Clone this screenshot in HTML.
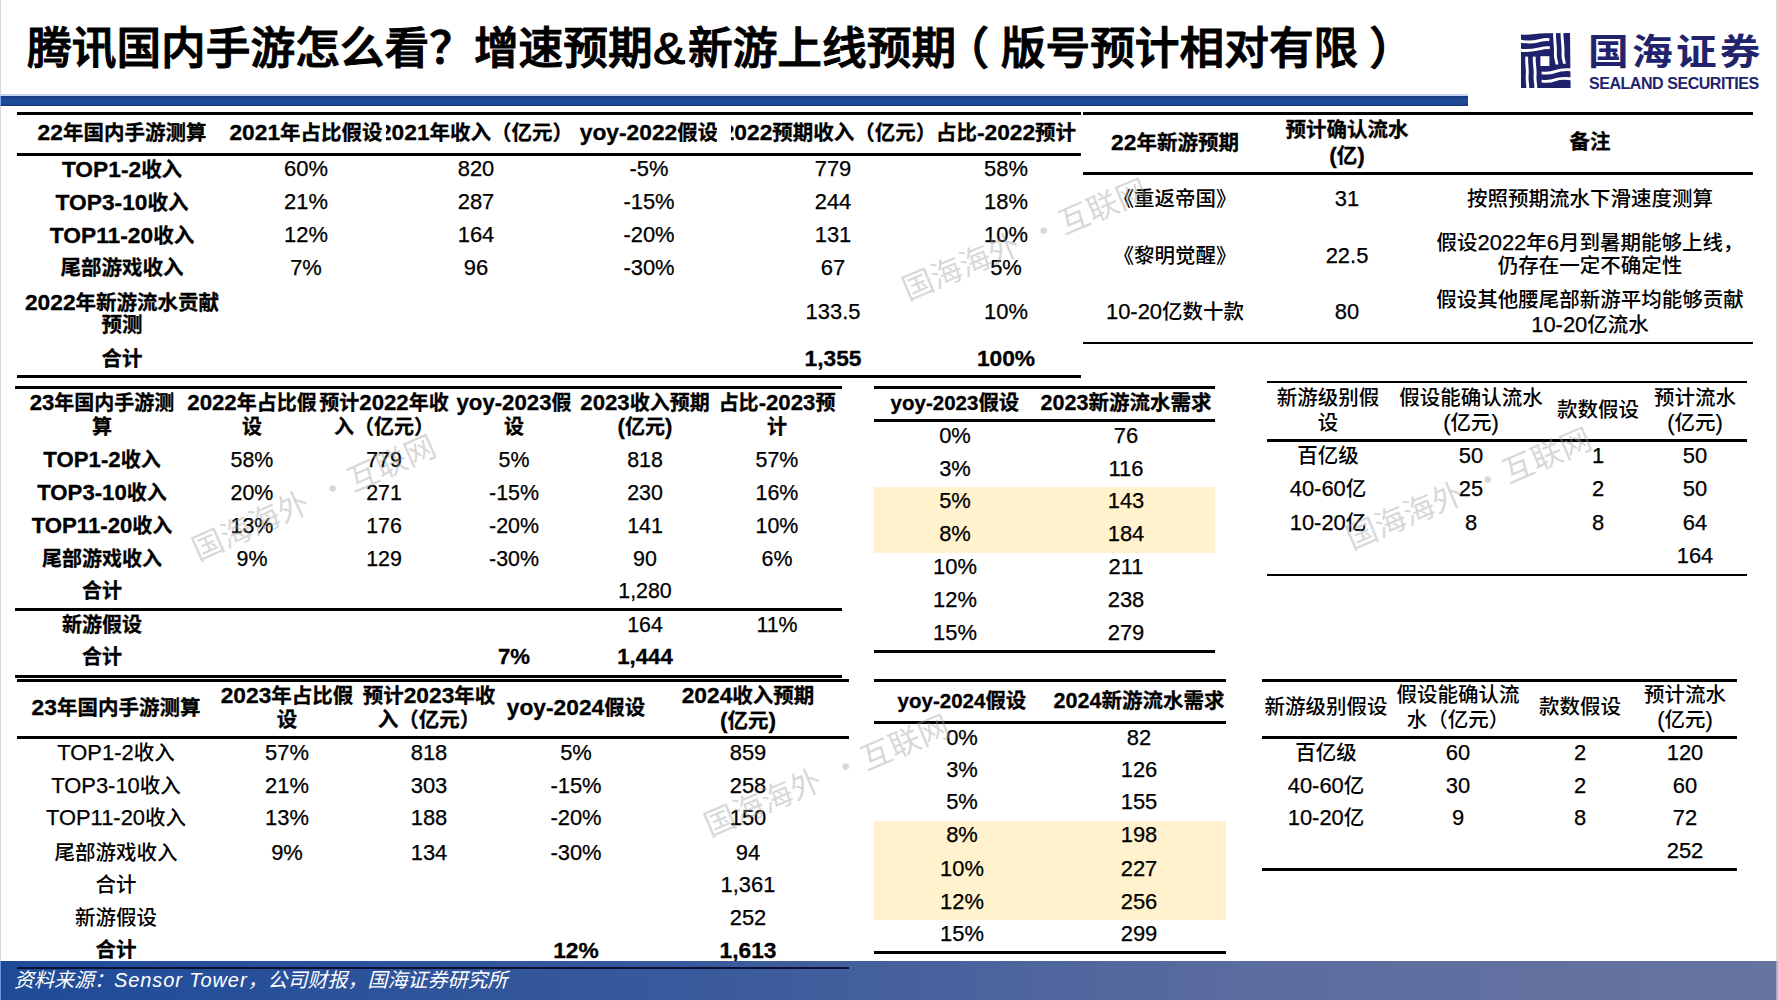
<!DOCTYPE html>
<html lang="zh-CN"><head><meta charset="utf-8"><title>腾讯国内手游怎么看</title>
<style>
html,body{margin:0;padding:0;background:#fff}
#s{position:relative;width:1778px;height:1000px;overflow:hidden;background:#fff;font-family:"Liberation Sans", "Noto Sans CJK SC", sans-serif;color:#000}
.ln{position:absolute}
.t{position:absolute;text-align:center;white-space:nowrap;line-height:30px;height:30px;font-weight:500}
.b{font-weight:700;-webkit-text-stroke:0.3px #000}
.L{font-size:var(--ls,1.07em);-webkit-text-stroke:0.25px #000}
.b .L{font-size:var(--ls,1.11em);-webkit-text-stroke:0.3px #000}
.clip{position:absolute;overflow:hidden}
.ws{word-spacing:-5px}
.wm{position:absolute;white-space:nowrap;color:rgba(160,160,160,0.42);transform-origin:15.5px 17px;line-height:1;word-spacing:6px;font-family:"Noto Sans CJK SC",sans-serif}
#title{position:absolute;left:27px;top:20px;font-size:44.7px;font-weight:500;-webkit-text-stroke:1.1px #000;line-height:58px;white-space:nowrap;letter-spacing:0}
.amp{margin:0 5.5px 0 0;display:inline-block;transform:scaleX(1.08);transform-origin:0 50%}
.fpl{position:relative;left:-11.5px}
.fpr{position:relative;left:11px}
#bar{position:absolute;left:0;top:96px;width:1468px;height:10px;background:linear-gradient(180deg,#15357a 0%,#1c4690 25%,#1f4e9b 60%,#1a438c 85%,#132f6a 100%)}
#barf{position:absolute;left:0;top:94px;width:1468px;height:2px;background:#c6d5f5}
#edgeL{position:absolute;left:0;top:0;width:1px;height:961px;background:#d6d6d6}
#edgeR{position:absolute;left:1776px;top:0;width:2px;height:1000px;background:#d9d9d9}
#foot{position:absolute;left:0;top:961px;width:1776px;height:39px;background:linear-gradient(90deg,#1e4b98 0%,#3a5a9c 40%,#5b6c9f 70%,#6774a0 100%)}
.st{letter-spacing:0.9px}
#foottxt{position:absolute;left:14px;top:965px;font-size:20px;font-style:italic;color:#fff;line-height:30px;white-space:nowrap}
#logo{position:absolute;left:1521px;top:33px;width:50px;height:56px}
#logo svg{display:block}
#logocn{position:absolute;left:1588px;top:31px;font-size:36px;font-weight:700;color:#22236d;letter-spacing:2.9px;transform:scaleX(1.13);transform-origin:0 0;line-height:44px;white-space:nowrap}
#logoen{position:absolute;left:1589px;top:73.5px;font-size:16px;font-weight:700;color:#22236d;line-height:20px;white-space:nowrap;letter-spacing:-0.45px}
</style></head><body><div id="s">
<div id="title">腾讯国内手游怎么看？增速预期<span class="amp">&amp;</span>新游上线预期<span class="fpl">（</span>版号预计相对有限<span class="fpr">）</span></div>
<div id="barf"></div><div id="bar"></div>
<div id="logo"><svg width="50" height="56" viewBox="0 0 50 56">
<path d="M0,1.5 C8,2.2 16,0.5 24,0.3 L49,0 L49.6,55 L0,55 Z" fill="#20216c"/>
<g fill="none" stroke="#fff" stroke-width="2.9">
<path d="M-1,8 C5,9.2 11,9.4 17,8 S24,6 28.4,6.8"/>
<path d="M-1,17.2 C5,17.8 11,17.6 17,16.2 S24,14.2 28.8,14.8"/>
<path d="M33.6,-1 C33.2,7 34.8,13 34.4,20 S35.8,27 35.9,31.5"/>
<path d="M41,-1 C40.8,7 42.4,13 42,20 S43.4,27 43.3,30.8"/>
<path d="M20.6,39.9 C25,40.4 30,40.2 34,38.6 S44,36.2 51,36.8"/>
<path d="M20.6,48.1 C25,48.6 30,48.4 34,46.8 S44,45 51,45.8"/>
<path d="M5.8,23.6 C5.2,30 6.8,36 6.2,42 S7,50 6.8,56.5"/>
<path d="M13.3,23.6 C12.8,30 14.6,36 14.1,42 S15,50 14.8,56.5"/>
</g>
<rect x="19.4" y="23.2" width="9" height="9.8" fill="#fff"/>
</svg></div>
<div id="logocn">国海证券</div>
<div id="logoen">SEALAND SECURITIES</div>
<div class="ln" style="left:17px;top:112px;width:1064px;height:3px;background:#000"></div>
<div class="ln" style="left:17px;top:153px;width:1064px;height:3px;background:#000"></div>
<div class="ln" style="left:17px;top:375px;width:1064px;height:3px;background:#000"></div>
<div class="t b" style="left:-78.0px;top:117.0px;width:400px;font-size:20.5px;"><span class="L">22</span>年国内手游测算</div>
<div class="clip" style="left:224px;top:117.0px;width:162px;height:30px"><div class="t b" style="left:-118.0px;top:0;width:400px;font-size:20.5px;"><span class="L">2021</span>年占比假设</div></div>
<div class="clip" style="left:386px;top:117.0px;width:180px;height:30px"><div class="t b" style="left:-110.0px;top:0;width:400px;font-size:20.5px;"><span class="L">2021</span>年收入（亿元）</div></div>
<div class="clip" style="left:566px;top:117.0px;width:151px;height:30px"><div class="t b" style="left:-117.0px;top:0;width:400px;font-size:20.5px;"><span class="L">yoy-2022</span>假设</div></div>
<div class="clip" style="left:731px;top:117.0px;width:200px;height:30px"><div class="t b" style="left:-102.0px;top:0;width:400px;font-size:20.5px;"><span class="L">2022</span>预期收入（亿元）</div></div>
<div class="clip" style="left:931px;top:117.0px;width:150px;height:30px"><div class="t b" style="left:-125.0px;top:0;width:400px;font-size:20.5px;">占比<span class="L">-2022</span>预计</div></div>
<div class="t b" style="left:-78.0px;top:154.0px;width:400px;font-size:20.5px;"><span class="L">TOP1-2</span>收入</div>
<div class="t" style="left:106.0px;top:154.0px;width:400px;font-size:20.5px;"><span class="L">60%</span></div>
<div class="t" style="left:276.0px;top:154.0px;width:400px;font-size:20.5px;"><span class="L">820</span></div>
<div class="t" style="left:449.0px;top:154.0px;width:400px;font-size:20.5px;"><span class="L">-5%</span></div>
<div class="t" style="left:633.0px;top:154.0px;width:400px;font-size:20.5px;"><span class="L">779</span></div>
<div class="t" style="left:806.0px;top:154.0px;width:400px;font-size:20.5px;"><span class="L">58%</span></div>
<div class="t b" style="left:-78.0px;top:186.5px;width:400px;font-size:20.5px;"><span class="L">TOP3-10</span>收入</div>
<div class="t" style="left:106.0px;top:186.5px;width:400px;font-size:20.5px;"><span class="L">21%</span></div>
<div class="t" style="left:276.0px;top:186.5px;width:400px;font-size:20.5px;"><span class="L">287</span></div>
<div class="t" style="left:449.0px;top:186.5px;width:400px;font-size:20.5px;"><span class="L">-15%</span></div>
<div class="t" style="left:633.0px;top:186.5px;width:400px;font-size:20.5px;"><span class="L">244</span></div>
<div class="t" style="left:806.0px;top:186.5px;width:400px;font-size:20.5px;"><span class="L">18%</span></div>
<div class="t b" style="left:-78.0px;top:219.5px;width:400px;font-size:20.5px;"><span class="L">TOP11-20</span>收入</div>
<div class="t" style="left:106.0px;top:219.5px;width:400px;font-size:20.5px;"><span class="L">12%</span></div>
<div class="t" style="left:276.0px;top:219.5px;width:400px;font-size:20.5px;"><span class="L">164</span></div>
<div class="t" style="left:449.0px;top:219.5px;width:400px;font-size:20.5px;"><span class="L">-20%</span></div>
<div class="t" style="left:633.0px;top:219.5px;width:400px;font-size:20.5px;"><span class="L">131</span></div>
<div class="t" style="left:806.0px;top:219.5px;width:400px;font-size:20.5px;"><span class="L">10%</span></div>
<div class="t b" style="left:-78.0px;top:252.5px;width:400px;font-size:20.5px;">尾部游戏收入</div>
<div class="t" style="left:106.0px;top:252.5px;width:400px;font-size:20.5px;"><span class="L">7%</span></div>
<div class="t" style="left:276.0px;top:252.5px;width:400px;font-size:20.5px;"><span class="L">96</span></div>
<div class="t" style="left:449.0px;top:252.5px;width:400px;font-size:20.5px;"><span class="L">-30%</span></div>
<div class="t" style="left:633.0px;top:252.5px;width:400px;font-size:20.5px;"><span class="L">67</span></div>
<div class="t" style="left:806.0px;top:252.5px;width:400px;font-size:20.5px;"><span class="L">5%</span></div>
<div class="t b" style="left:-78.0px;top:286.5px;width:400px;font-size:20.5px;"><span class="L">2022</span>年新游流水贡献</div>
<div class="t b" style="left:-78.0px;top:310.0px;width:400px;font-size:20.5px;">预测</div>
<div class="t" style="left:633.0px;top:297.0px;width:400px;font-size:20.5px;"><span class="L">133.5</span></div>
<div class="t" style="left:806.0px;top:297.0px;width:400px;font-size:20.5px;"><span class="L">10%</span></div>
<div class="t b" style="left:-78.0px;top:343.5px;width:400px;font-size:20.5px;">合计</div>
<div class="t b" style="left:633.0px;top:343.0px;width:400px;font-size:20.5px;"><span class="L">1,355</span></div>
<div class="t b" style="left:806.0px;top:343.0px;width:400px;font-size:20.5px;"><span class="L">100%</span></div>
<div class="ln" style="left:1083px;top:112px;width:670px;height:3px;background:#000"></div>
<div class="ln" style="left:1083px;top:172px;width:670px;height:3px;background:#000"></div>
<div class="ln" style="left:1083px;top:342px;width:670px;height:2px;background:#000"></div>
<div class="t b" style="left:975.0px;top:127.0px;width:400px;font-size:20.5px;"><span class="L">22</span>年新游预期</div>
<div class="t b" style="left:1147.0px;top:114.5px;width:400px;font-size:20.5px;">预计确认流水</div>
<div class="t b" style="left:1147.0px;top:140.0px;width:400px;font-size:20.5px;"><span class="L">(</span>亿<span class="L">)</span></div>
<div class="t b" style="left:1390.0px;top:127.0px;width:400px;font-size:20.5px;">备注</div>
<div class="t" style="left:975.0px;top:184.0px;width:400px;font-size:20.5px;">《重返帝国》</div>
<div class="t" style="left:1147.0px;top:184.0px;width:400px;font-size:20.5px;"><span class="L">31</span></div>
<div class="t" style="left:1390.0px;top:184.0px;width:400px;font-size:20.5px;">按照预期流水下滑速度测算</div>
<div class="t" style="left:975.0px;top:240.5px;width:400px;font-size:20.5px;">《黎明觉醒》</div>
<div class="t" style="left:1147.0px;top:240.5px;width:400px;font-size:20.5px;"><span class="L">22.5</span></div>
<div class="t" style="left:1390.0px;top:228.0px;width:400px;font-size:20.5px;">假设<span class="L">2022</span>年<span class="L">6</span>月到暑期能够上线，</div>
<div class="t" style="left:1390.0px;top:251.0px;width:400px;font-size:20.5px;">仍存在一定不确定性</div>
<div class="t" style="left:975.0px;top:297.0px;width:400px;font-size:20.5px;"><span class="L">10-20</span>亿数十款</div>
<div class="t" style="left:1147.0px;top:297.0px;width:400px;font-size:20.5px;"><span class="L">80</span></div>
<div class="t" style="left:1390.0px;top:284.5px;width:400px;font-size:20.5px;">假设其他腰尾部新游平均能够贡献</div>
<div class="t" style="left:1390.0px;top:310.0px;width:400px;font-size:20.5px;"><span class="L">10-20</span>亿流水</div>
<div class="ln" style="left:15px;top:386px;width:827px;height:3px;background:#000"></div>
<div class="ln" style="left:15px;top:608px;width:827px;height:3px;background:#000"></div>
<div class="ln" style="left:15px;top:675px;width:827px;height:3px;background:#000"></div>
<div class="t b" style="left:-98.0px;top:387.5px;width:400px;font-size:20px;"><span class="L">23</span>年国内手游测</div>
<div class="t b" style="left:-98.0px;top:412.0px;width:400px;font-size:20px;">算</div>
<div class="t b" style="left:52.0px;top:387.5px;width:400px;font-size:20px;"><span class="L">2022</span>年占比假</div>
<div class="t b" style="left:52.0px;top:412.0px;width:400px;font-size:20px;">设</div>
<div class="t b" style="left:184.0px;top:387.5px;width:400px;font-size:20px;">预计<span class="L">2022</span>年收</div>
<div class="t b" style="left:184.0px;top:412.0px;width:400px;font-size:20px;">入（亿元）</div>
<div class="t b" style="left:314.0px;top:387.5px;width:400px;font-size:20px;"><span class="L">yoy-2023</span>假</div>
<div class="t b" style="left:314.0px;top:412.0px;width:400px;font-size:20px;">设</div>
<div class="t b" style="left:445.0px;top:387.5px;width:400px;font-size:20px;"><span class="L">2023</span>收入预期</div>
<div class="t b" style="left:445.0px;top:412.0px;width:400px;font-size:20px;"><span class="L">(</span>亿元<span class="L">)</span></div>
<div class="t b" style="left:577.0px;top:387.5px;width:400px;font-size:20px;">占比<span class="L">-2023</span>预</div>
<div class="t b" style="left:577.0px;top:412.0px;width:400px;font-size:20px;">计</div>
<div class="t b" style="left:-98.0px;top:445.0px;width:400px;font-size:20px;"><span class="L">TOP1-2</span>收入</div>
<div class="t" style="left:52.0px;top:445.0px;width:400px;font-size:20px;"><span class="L">58%</span></div>
<div class="t" style="left:184.0px;top:445.0px;width:400px;font-size:20px;"><span class="L">779</span></div>
<div class="t" style="left:314.0px;top:445.0px;width:400px;font-size:20px;"><span class="L">5%</span></div>
<div class="t" style="left:445.0px;top:445.0px;width:400px;font-size:20px;"><span class="L">818</span></div>
<div class="t" style="left:577.0px;top:445.0px;width:400px;font-size:20px;"><span class="L">57%</span></div>
<div class="t b" style="left:-98.0px;top:478.0px;width:400px;font-size:20px;"><span class="L">TOP3-10</span>收入</div>
<div class="t" style="left:52.0px;top:478.0px;width:400px;font-size:20px;"><span class="L">20%</span></div>
<div class="t" style="left:184.0px;top:478.0px;width:400px;font-size:20px;"><span class="L">271</span></div>
<div class="t" style="left:314.0px;top:478.0px;width:400px;font-size:20px;"><span class="L">-15%</span></div>
<div class="t" style="left:445.0px;top:478.0px;width:400px;font-size:20px;"><span class="L">230</span></div>
<div class="t" style="left:577.0px;top:478.0px;width:400px;font-size:20px;"><span class="L">16%</span></div>
<div class="t b" style="left:-98.0px;top:511.0px;width:400px;font-size:20px;"><span class="L">TOP11-20</span>收入</div>
<div class="t" style="left:52.0px;top:511.0px;width:400px;font-size:20px;"><span class="L">13%</span></div>
<div class="t" style="left:184.0px;top:511.0px;width:400px;font-size:20px;"><span class="L">176</span></div>
<div class="t" style="left:314.0px;top:511.0px;width:400px;font-size:20px;"><span class="L">-20%</span></div>
<div class="t" style="left:445.0px;top:511.0px;width:400px;font-size:20px;"><span class="L">141</span></div>
<div class="t" style="left:577.0px;top:511.0px;width:400px;font-size:20px;"><span class="L">10%</span></div>
<div class="t b" style="left:-98.0px;top:543.5px;width:400px;font-size:20px;">尾部游戏收入</div>
<div class="t" style="left:52.0px;top:543.5px;width:400px;font-size:20px;"><span class="L">9%</span></div>
<div class="t" style="left:184.0px;top:543.5px;width:400px;font-size:20px;"><span class="L">129</span></div>
<div class="t" style="left:314.0px;top:543.5px;width:400px;font-size:20px;"><span class="L">-30%</span></div>
<div class="t" style="left:445.0px;top:543.5px;width:400px;font-size:20px;"><span class="L">90</span></div>
<div class="t" style="left:577.0px;top:543.5px;width:400px;font-size:20px;"><span class="L">6%</span></div>
<div class="t b" style="left:-98.0px;top:575.5px;width:400px;font-size:20px;">合计</div>
<div class="t" style="left:445.0px;top:575.5px;width:400px;font-size:20px;"><span class="L">1,280</span></div>
<div class="t b" style="left:-98.0px;top:609.5px;width:400px;font-size:20px;">新游假设</div>
<div class="t" style="left:445.0px;top:609.5px;width:400px;font-size:20px;"><span class="L">164</span></div>
<div class="t" style="left:577.0px;top:609.5px;width:400px;font-size:20px;"><span class="L">11%</span></div>
<div class="t b" style="left:-98.0px;top:642.0px;width:400px;font-size:20px;">合计</div>
<div class="t b" style="left:314.0px;top:642.0px;width:400px;font-size:20px;"><span class="L">7%</span></div>
<div class="t b" style="left:445.0px;top:642.0px;width:400px;font-size:20px;"><span class="L">1,444</span></div>
<div class="ln" style="left:874px;top:487px;width:341px;height:66px;background:#FFF2CC"></div>
<div class="ln" style="left:874px;top:386px;width:341px;height:3px;background:#000"></div>
<div class="ln" style="left:874px;top:419px;width:341px;height:3px;background:#000"></div>
<div class="ln" style="left:874px;top:650px;width:341px;height:3px;background:#000"></div>
<div class="t b" style="left:755.0px;top:387.5px;width:400px;font-size:20.5px;--ls:1.0em;"><span class="L">yoy-2023</span>假设</div>
<div class="t b" style="left:926.0px;top:387.5px;width:400px;font-size:20.5px;--ls:1.05em;"><span class="L">2023</span>新游流水需求</div>
<div class="t" style="left:755.0px;top:421.0px;width:400px;font-size:20.5px;"><span class="L">0%</span></div>
<div class="t" style="left:926.0px;top:421.0px;width:400px;font-size:20.5px;"><span class="L">76</span></div>
<div class="t" style="left:755.0px;top:453.5px;width:400px;font-size:20.5px;"><span class="L">3%</span></div>
<div class="t" style="left:926.0px;top:453.5px;width:400px;font-size:20.5px;"><span class="L">116</span></div>
<div class="t" style="left:755.0px;top:486.0px;width:400px;font-size:20.5px;"><span class="L">5%</span></div>
<div class="t" style="left:926.0px;top:486.0px;width:400px;font-size:20.5px;"><span class="L">143</span></div>
<div class="t" style="left:755.0px;top:519.0px;width:400px;font-size:20.5px;"><span class="L">8%</span></div>
<div class="t" style="left:926.0px;top:519.0px;width:400px;font-size:20.5px;"><span class="L">184</span></div>
<div class="t" style="left:755.0px;top:552.0px;width:400px;font-size:20.5px;"><span class="L">10%</span></div>
<div class="t" style="left:926.0px;top:552.0px;width:400px;font-size:20.5px;"><span class="L">211</span></div>
<div class="t" style="left:755.0px;top:584.5px;width:400px;font-size:20.5px;"><span class="L">12%</span></div>
<div class="t" style="left:926.0px;top:584.5px;width:400px;font-size:20.5px;"><span class="L">238</span></div>
<div class="t" style="left:755.0px;top:618.0px;width:400px;font-size:20.5px;"><span class="L">15%</span></div>
<div class="t" style="left:926.0px;top:618.0px;width:400px;font-size:20.5px;"><span class="L">279</span></div>
<div class="ln" style="left:1267px;top:381px;width:480px;height:2px;background:#000"></div>
<div class="ln" style="left:1267px;top:439px;width:480px;height:3px;background:#000"></div>
<div class="ln" style="left:1267px;top:574px;width:480px;height:2px;background:#000"></div>
<div class="t" style="left:1128.0px;top:383.0px;width:400px;font-size:20.5px;">新游级别假</div>
<div class="t" style="left:1128.0px;top:407.5px;width:400px;font-size:20.5px;">设</div>
<div class="t" style="left:1271.0px;top:383.0px;width:400px;font-size:20.5px;">假设能确认流水</div>
<div class="t" style="left:1271.0px;top:407.5px;width:400px;font-size:20.5px;"><span class="L">(</span>亿元<span class="L">)</span></div>
<div class="t" style="left:1398.0px;top:395.0px;width:400px;font-size:20.5px;">款数假设</div>
<div class="t" style="left:1495.0px;top:383.0px;width:400px;font-size:20.5px;">预计流水</div>
<div class="t" style="left:1495.0px;top:407.5px;width:400px;font-size:20.5px;"><span class="L">(</span>亿元<span class="L">)</span></div>
<div class="t" style="left:1128.0px;top:440.5px;width:400px;font-size:20.5px;">百亿级</div>
<div class="t" style="left:1271.0px;top:440.5px;width:400px;font-size:20.5px;"><span class="L">50</span></div>
<div class="t" style="left:1398.0px;top:440.5px;width:400px;font-size:20.5px;"><span class="L">1</span></div>
<div class="t" style="left:1495.0px;top:440.5px;width:400px;font-size:20.5px;"><span class="L">50</span></div>
<div class="t" style="left:1128.0px;top:474.0px;width:400px;font-size:20.5px;"><span class="L">40-60</span>亿</div>
<div class="t" style="left:1271.0px;top:474.0px;width:400px;font-size:20.5px;"><span class="L">25</span></div>
<div class="t" style="left:1398.0px;top:474.0px;width:400px;font-size:20.5px;"><span class="L">2</span></div>
<div class="t" style="left:1495.0px;top:474.0px;width:400px;font-size:20.5px;"><span class="L">50</span></div>
<div class="t" style="left:1128.0px;top:508.0px;width:400px;font-size:20.5px;"><span class="L">10-20</span>亿</div>
<div class="t" style="left:1271.0px;top:508.0px;width:400px;font-size:20.5px;"><span class="L">8</span></div>
<div class="t" style="left:1398.0px;top:508.0px;width:400px;font-size:20.5px;"><span class="L">8</span></div>
<div class="t" style="left:1495.0px;top:508.0px;width:400px;font-size:20.5px;"><span class="L">64</span></div>
<div class="t" style="left:1495.0px;top:541.0px;width:400px;font-size:20.5px;"><span class="L">164</span></div>
<div class="ln" style="left:17px;top:679px;width:832px;height:3px;background:#000"></div>
<div class="ln" style="left:17px;top:736px;width:832px;height:3px;background:#000"></div>
<div class="t b" style="left:-84.0px;top:691.5px;width:400px;font-size:20.5px;"><span class="L">23</span>年国内手游测算</div>
<div class="t b" style="left:87.0px;top:680.0px;width:400px;font-size:20.5px;"><span class="L">2023</span>年占比假</div>
<div class="t b" style="left:87.0px;top:705.0px;width:400px;font-size:20.5px;">设</div>
<div class="t b" style="left:229.0px;top:680.0px;width:400px;font-size:20.5px;">预计<span class="L">2023</span>年收</div>
<div class="t b" style="left:229.0px;top:705.0px;width:400px;font-size:20.5px;">入（亿元）</div>
<div class="t b" style="left:376.0px;top:692.0px;width:400px;font-size:20.5px;"><span class="L">yoy-2024</span>假设</div>
<div class="t b" style="left:548.0px;top:680.0px;width:400px;font-size:20.5px;"><span class="L">2024</span>收入预期</div>
<div class="t b" style="left:548.0px;top:705.0px;width:400px;font-size:20.5px;"><span class="L">(</span>亿元<span class="L">)</span></div>
<div class="t" style="left:-84.0px;top:737.5px;width:400px;font-size:20.5px;"><span class="L">TOP1-2</span>收入</div>
<div class="t" style="left:87.0px;top:737.5px;width:400px;font-size:20.5px;"><span class="L">57%</span></div>
<div class="t" style="left:229.0px;top:737.5px;width:400px;font-size:20.5px;"><span class="L">818</span></div>
<div class="t" style="left:376.0px;top:737.5px;width:400px;font-size:20.5px;"><span class="L">5%</span></div>
<div class="t" style="left:548.0px;top:737.5px;width:400px;font-size:20.5px;"><span class="L">859</span></div>
<div class="t" style="left:-84.0px;top:771.0px;width:400px;font-size:20.5px;"><span class="L">TOP3-10</span>收入</div>
<div class="t" style="left:87.0px;top:771.0px;width:400px;font-size:20.5px;"><span class="L">21%</span></div>
<div class="t" style="left:229.0px;top:771.0px;width:400px;font-size:20.5px;"><span class="L">303</span></div>
<div class="t" style="left:376.0px;top:771.0px;width:400px;font-size:20.5px;"><span class="L">-15%</span></div>
<div class="t" style="left:548.0px;top:771.0px;width:400px;font-size:20.5px;"><span class="L">258</span></div>
<div class="t" style="left:-84.0px;top:803.0px;width:400px;font-size:20.5px;"><span class="L">TOP11-20</span>收入</div>
<div class="t" style="left:87.0px;top:803.0px;width:400px;font-size:20.5px;"><span class="L">13%</span></div>
<div class="t" style="left:229.0px;top:803.0px;width:400px;font-size:20.5px;"><span class="L">188</span></div>
<div class="t" style="left:376.0px;top:803.0px;width:400px;font-size:20.5px;"><span class="L">-20%</span></div>
<div class="t" style="left:548.0px;top:803.0px;width:400px;font-size:20.5px;"><span class="L">150</span></div>
<div class="t" style="left:-84.0px;top:837.5px;width:400px;font-size:20.5px;">尾部游戏收入</div>
<div class="t" style="left:87.0px;top:837.5px;width:400px;font-size:20.5px;"><span class="L">9%</span></div>
<div class="t" style="left:229.0px;top:837.5px;width:400px;font-size:20.5px;"><span class="L">134</span></div>
<div class="t" style="left:376.0px;top:837.5px;width:400px;font-size:20.5px;"><span class="L">-30%</span></div>
<div class="t" style="left:548.0px;top:837.5px;width:400px;font-size:20.5px;"><span class="L">94</span></div>
<div class="t" style="left:-84.0px;top:870.0px;width:400px;font-size:20.5px;">合计</div>
<div class="t" style="left:548.0px;top:870.0px;width:400px;font-size:20.5px;"><span class="L">1,361</span></div>
<div class="t" style="left:-84.0px;top:902.5px;width:400px;font-size:20.5px;">新游假设</div>
<div class="t" style="left:548.0px;top:902.5px;width:400px;font-size:20.5px;"><span class="L">252</span></div>
<div class="t b" style="left:-84.0px;top:935.0px;width:400px;font-size:20.5px;">合计</div>
<div class="t b" style="left:376.0px;top:935.0px;width:400px;font-size:20.5px;"><span class="L">12%</span></div>
<div class="t b" style="left:548.0px;top:935.0px;width:400px;font-size:20.5px;"><span class="L">1,613</span></div>
<div class="ln" style="left:874px;top:821px;width:352px;height:99px;background:#FFF2CC"></div>
<div class="ln" style="left:874px;top:679px;width:352px;height:3px;background:#000"></div>
<div class="ln" style="left:874px;top:721px;width:352px;height:3px;background:#000"></div>
<div class="ln" style="left:874px;top:951px;width:352px;height:3px;background:#000"></div>
<div class="t b" style="left:762.0px;top:685.5px;width:400px;font-size:20.5px;--ls:1.0em;"><span class="L">yoy-2024</span>假设</div>
<div class="t b" style="left:939.0px;top:685.5px;width:400px;font-size:20.5px;--ls:1.05em;"><span class="L">2024</span>新游流水需求</div>
<div class="t" style="left:762.0px;top:722.5px;width:400px;font-size:20.5px;"><span class="L">0%</span></div>
<div class="t" style="left:939.0px;top:722.5px;width:400px;font-size:20.5px;"><span class="L">82</span></div>
<div class="t" style="left:762.0px;top:755.0px;width:400px;font-size:20.5px;"><span class="L">3%</span></div>
<div class="t" style="left:939.0px;top:755.0px;width:400px;font-size:20.5px;"><span class="L">126</span></div>
<div class="t" style="left:762.0px;top:787.0px;width:400px;font-size:20.5px;"><span class="L">5%</span></div>
<div class="t" style="left:939.0px;top:787.0px;width:400px;font-size:20.5px;"><span class="L">155</span></div>
<div class="t" style="left:762.0px;top:820.0px;width:400px;font-size:20.5px;"><span class="L">8%</span></div>
<div class="t" style="left:939.0px;top:820.0px;width:400px;font-size:20.5px;"><span class="L">198</span></div>
<div class="t" style="left:762.0px;top:854.0px;width:400px;font-size:20.5px;"><span class="L">10%</span></div>
<div class="t" style="left:939.0px;top:854.0px;width:400px;font-size:20.5px;"><span class="L">227</span></div>
<div class="t" style="left:762.0px;top:887.0px;width:400px;font-size:20.5px;"><span class="L">12%</span></div>
<div class="t" style="left:939.0px;top:887.0px;width:400px;font-size:20.5px;"><span class="L">256</span></div>
<div class="t" style="left:762.0px;top:919.0px;width:400px;font-size:20.5px;"><span class="L">15%</span></div>
<div class="t" style="left:939.0px;top:919.0px;width:400px;font-size:20.5px;"><span class="L">299</span></div>
<div class="ln" style="left:1262px;top:679px;width:475px;height:3px;background:#000"></div>
<div class="ln" style="left:1262px;top:736px;width:475px;height:3px;background:#000"></div>
<div class="ln" style="left:1262px;top:868px;width:475px;height:3px;background:#000"></div>
<div class="t" style="left:1126.0px;top:691.5px;width:400px;font-size:20.5px;">新游级别假设</div>
<div class="t" style="left:1258.0px;top:680.0px;width:400px;font-size:20.5px;">假设能确认流</div>
<div class="t" style="left:1258.0px;top:705.0px;width:400px;font-size:20.5px;">水（亿元）</div>
<div class="t" style="left:1380.0px;top:691.5px;width:400px;font-size:20.5px;">款数假设</div>
<div class="t" style="left:1485.0px;top:680.0px;width:400px;font-size:20.5px;">预计流水</div>
<div class="t" style="left:1485.0px;top:705.0px;width:400px;font-size:20.5px;"><span class="L">(</span>亿元<span class="L">)</span></div>
<div class="t" style="left:1126.0px;top:737.5px;width:400px;font-size:20.5px;">百亿级</div>
<div class="t" style="left:1258.0px;top:737.5px;width:400px;font-size:20.5px;"><span class="L">60</span></div>
<div class="t" style="left:1380.0px;top:737.5px;width:400px;font-size:20.5px;"><span class="L">2</span></div>
<div class="t" style="left:1485.0px;top:737.5px;width:400px;font-size:20.5px;"><span class="L">120</span></div>
<div class="t" style="left:1126.0px;top:771.0px;width:400px;font-size:20.5px;"><span class="L">40-60</span>亿</div>
<div class="t" style="left:1258.0px;top:771.0px;width:400px;font-size:20.5px;"><span class="L">30</span></div>
<div class="t" style="left:1380.0px;top:771.0px;width:400px;font-size:20.5px;"><span class="L">2</span></div>
<div class="t" style="left:1485.0px;top:771.0px;width:400px;font-size:20.5px;"><span class="L">60</span></div>
<div class="t" style="left:1126.0px;top:803.0px;width:400px;font-size:20.5px;"><span class="L">10-20</span>亿</div>
<div class="t" style="left:1258.0px;top:803.0px;width:400px;font-size:20.5px;"><span class="L">9</span></div>
<div class="t" style="left:1380.0px;top:803.0px;width:400px;font-size:20.5px;"><span class="L">8</span></div>
<div class="t" style="left:1485.0px;top:803.0px;width:400px;font-size:20.5px;"><span class="L">72</span></div>
<div class="t" style="left:1485.0px;top:836.0px;width:400px;font-size:20.5px;"><span class="L">252</span></div>
<div class="wm" style="left:902.0px;top:267.0px;font-size:31px;transform:rotate(-23deg)">国海海外 ·<span class="ws"> </span>互联网</div>
<div class="wm" style="left:192.3px;top:527.0px;font-size:31px;transform:rotate(-24deg)">国海海外 ·<span class="ws"> </span>互联网</div>
<div class="wm" style="left:1345.9px;top:516.2px;font-size:31px;transform:rotate(-23deg)">国海海外 ·<span class="ws"> </span>互联网</div>
<div class="wm" style="left:704.1px;top:802.6px;font-size:31px;transform:rotate(-23deg)">国海海外 ·<span class="ws"> </span>互联网</div>
<div id="foot"></div>
<div class="ln" style="left:17px;top:967px;width:832px;height:2px;background:#0a1035"></div>
<div id="foottxt">资料来源：<span class="st">Sensor Tower</span>，公司财报，国海证券研究所</div>
<div id="edgeL"></div><div style="position:absolute;left:0;top:961px;width:1px;height:39px;background:#6f93d8"></div><div style="position:absolute;left:0;top:96px;width:1px;height:10px;background:#7aa2ea"></div><div id="edgeR"></div><div style="position:absolute;left:1776px;top:961px;width:2px;height:39px;background:#a9abcf"></div>
</div></body></html>
